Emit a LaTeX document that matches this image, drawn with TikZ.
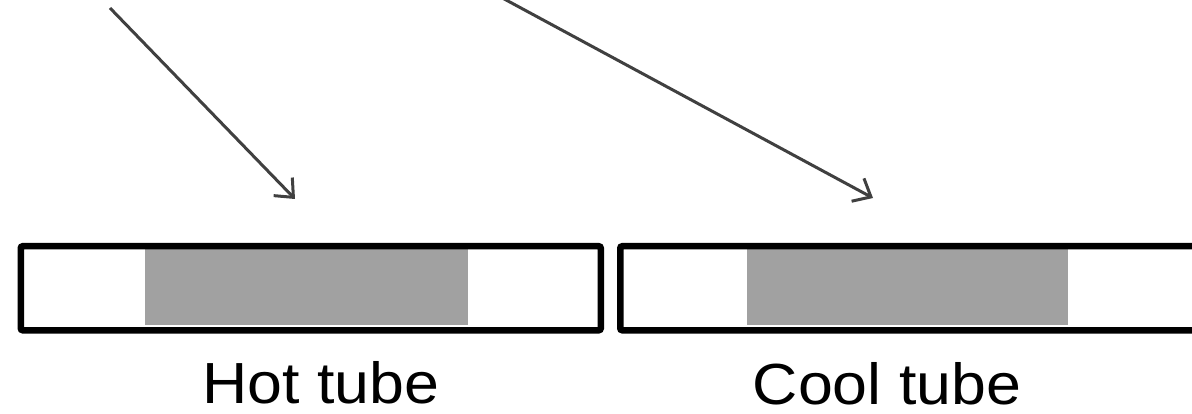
\documentclass[tikz,border=0pt]{standalone}
\usepackage{fontspec}
\setmainfont{Liberation Sans}
\usetikzlibrary{arrows.meta}
\definecolor{fillgray}{gray}{0.63}
\newcommand{\widetext}[1]{\scalebox{1.08}[1]{#1}}
\begin{document}
\begin{tikzpicture}[x=1pt,y=-1pt,
  tubeframe/.style={draw=black,line width=6.5pt,rounded corners=2pt},
  core/.style={fill=fillgray,draw=none},
  pointer/.style={draw=black!75,line width=3pt,-{Straight Barb[length=15pt,width=26pt,line width=3pt]}},
  caption/.style={font=\fontsize{58}{60}\selectfont,anchor=base,inner sep=0pt}]
  \useasboundingbox (0,0) rectangle (1192,414);
  \clip (0,0) rectangle (1192,414);

  % hot tube
  \fill[core] (145,246) rectangle (468,325);
  \node[tubeframe,minimum width=580pt,minimum height=84pt,inner sep=0pt,anchor=north west] (hot) at (17.5,243) {};
  % cool tube (runs past the right edge)
  \fill[core] (747,246) rectangle (1068,325);
  \node[tubeframe,minimum width=600pt,minimum height=84pt,inner sep=0pt,anchor=north west] (cool) at (617,243) {};

  \node[caption] (hotlabel) at (321,403) {\widetext{Hot tube}};
  \node[caption] (coollabel) at (887,404) {\widetext{Cool tube}};

  % pointers onto the tubes
  \coordinate (hs) at (110,8);
  \coordinate (ht) at (295,199);
  \coordinate (cs) at (495,-6);
  \coordinate (ct) at (873,198);
  \draw[pointer] (hs) -- (ht);
  \draw[pointer] (cs) -- (ct);
\end{tikzpicture}
\end{document}
